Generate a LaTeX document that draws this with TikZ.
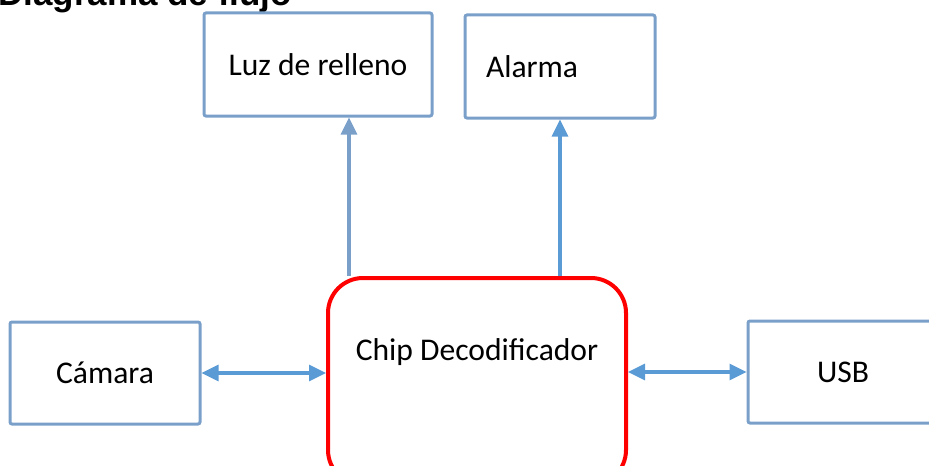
\documentclass[tikz,border=0pt]{standalone}
\usepackage{fontspec}
\setmainfont{Carlito}
\newfontfamily\titlefont{Liberation Sans}
\usetikzlibrary{positioning,arrows.meta}
\definecolor{boxblue}{RGB}{122,160,202}
\definecolor{arrowblue}{RGB}{91,155,213}
\begin{document}
\begin{tikzpicture}[x=0.5pt, y=-0.5pt,
		bloque/.style={draw=boxblue, line width=1.5pt, rounded corners=1pt, minimum width=95pt, minimum height=51.5pt, inner sep=0pt, font=\fontsize{15.8}{19}\selectfont},
		chipbox/.style={draw=red, line width=2pt, rounded corners=17.5pt, minimum width=149pt, minimum height=103.5pt, text height=11pt, text depth=32pt, font=\fontsize{15.8}{19}\selectfont},
		flecha/.style={draw=arrowblue, line width=1.6pt, -{Triangle[length=8.5pt, width=8pt]}},
		dflecha/.style={flecha, {Triangle[length=8.5pt, width=8pt]}-{Triangle[length=8.5pt, width=8pt]}}]
			\useasboundingbox (0,0) rectangle (929,465);
			\node[anchor=base west, inner sep=0pt, font=\titlefont\bfseries\fontsize{17.5}{21}\selectfont] (titulo) at (-2,6) {Diagrama de flujo};

			\node[bloque, minimum width=114pt] (luz) at (318,64.5) {Luz de relleno};
			\node[bloque, text width=74pt, align=left, inner xsep=10.5pt] (alarma) at (560,66.5) {Alarma};
			\node[chipbox] (chip) at (477,381.5) {Chip Decodificador};
			\node[bloque, minimum height=51pt] (camara) at (105,373) {Cámara};
			\node[bloque, minimum height=51pt] (usb) at (843,372) {USB};

			\draw[flecha, draw=boxblue] ([xshift=11.5pt]chip.north west) -- ([xshift=11.5pt]chip.north west |- luz.south);
			\draw[flecha] (chip.north -| alarma.south) -- (alarma.south);
			\draw[dflecha] (camara.east) -- (camara.east -| chip.west);
			\draw[dflecha] (chip.east |- usb.west) -- (usb.west);
		\end{tikzpicture}
\end{document}
